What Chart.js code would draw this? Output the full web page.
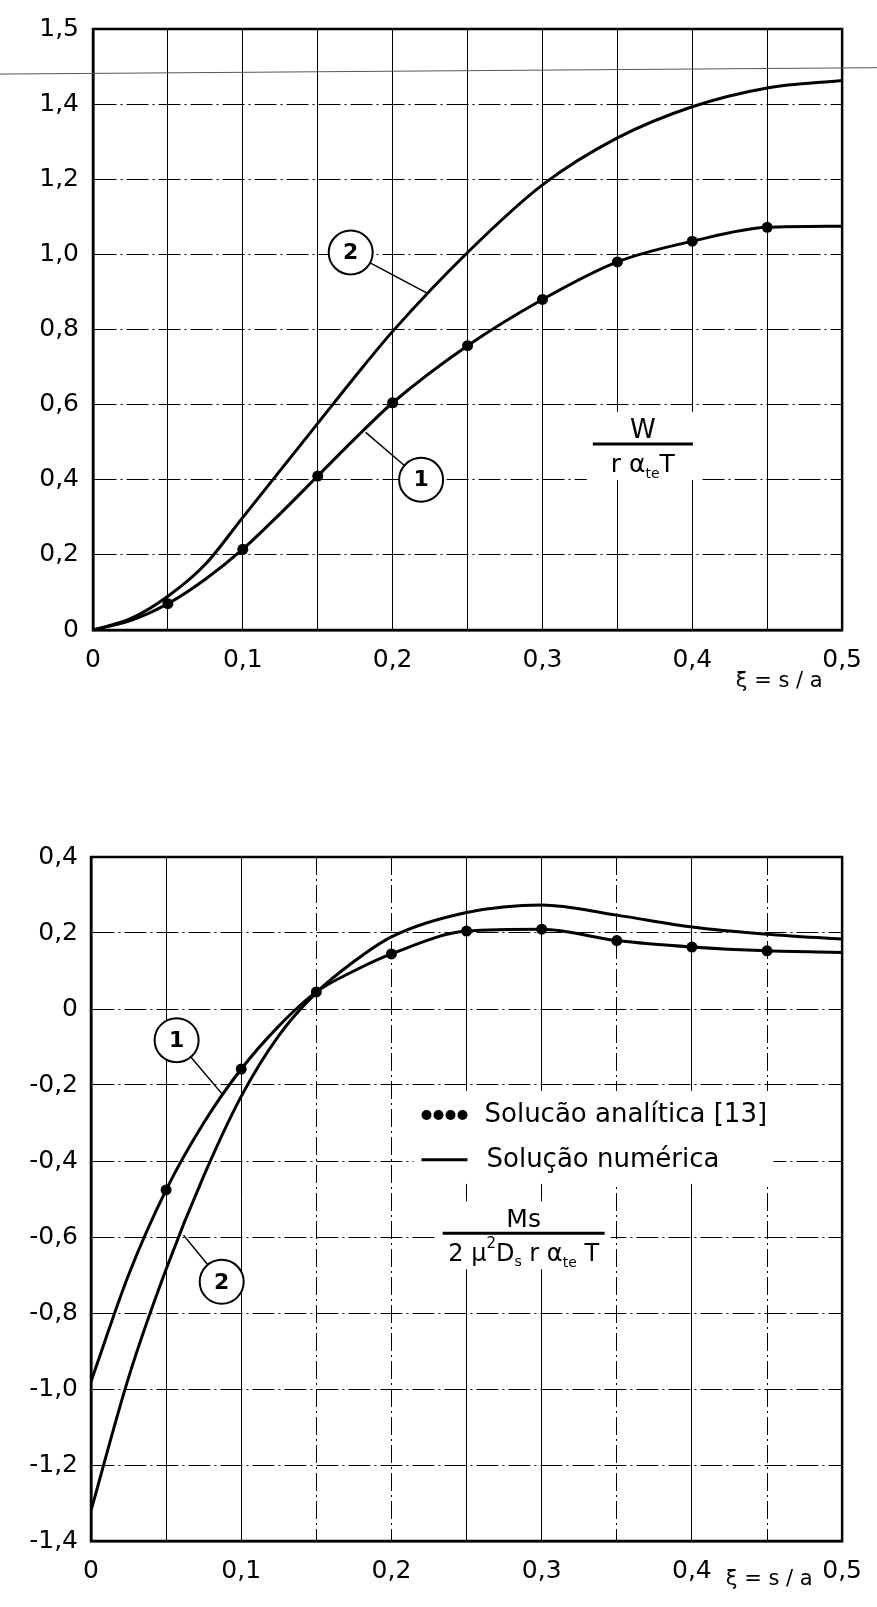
<!DOCTYPE html>
<html>
<head>
<meta charset="utf-8">
<script src="https://cdn.jsdelivr.net/npm/chart.js@4.4.1/dist/chart.umd.min.js"></script>
<style>
  html, body { margin: 0; padding: 0; background: #fff; }
  #wrapTop { position: absolute; left: 0; top: 0; width: 877px; height: 720px; }
  #wrapBot { position: absolute; left: 0; top: 800px; width: 877px; height: 807px; }
</style>
</head>
<body>
<div id="wrapTop"><canvas id="chartTop" width="877" height="720"></canvas></div>
<div id="wrapBot"><canvas id="chartBot" width="877" height="807"></canvas></div>
<script>
const FONT = '"DejaVu Sans", sans-serif'

// upper graph: W / (r alpha_te T)
const wXi = [0, 0.025, 0.05, 0.075, 0.1, 0.125, 0.15, 0.175, 0.2, 0.25, 0.3, 0.35, 0.4, 0.45, 0.5]
const wCurve1 = [0, 0.025, 0.07, 0.135, 0.215, 0.31, 0.41, 0.51, 0.605, 0.757, 0.88, 0.98, 1.035, 1.072, 1.075]
const wCurve2 = [0, 0.03, 0.09, 0.175, 0.30, 0.425, 0.55, 0.675, 0.795, 1.005, 1.185, 1.31, 1.393, 1.443, 1.463]
const wDotXi = [0.05, 0.1, 0.15, 0.2, 0.25, 0.3, 0.35, 0.4, 0.45]
const wDots = [0.07, 0.215, 0.41, 0.605, 0.757, 0.88, 0.98, 1.035, 1.072]
const wYLabels = ['0', '0,2', '0,4', '0,6', '0,8', '1,0', '1,2', '1,4', '1,5']

// lower graph: Ms / (2 mu^2 Ds r alpha_te T)
const mXi = [0, 0.025, 0.05, 0.075, 0.1, 0.125, 0.15, 0.175, 0.2, 0.25, 0.3, 0.35, 0.4, 0.45, 0.5]
const mCurve1 = [-0.98, -0.70, -0.476, -0.30, -0.158, -0.045, 0.045, 0.10, 0.145, 0.205, 0.21, 0.18, 0.163, 0.153, 0.149]
const mCurve2 = [-1.32, -0.97, -0.685, -0.44, -0.23, -0.07, 0.043, 0.125, 0.19, 0.254, 0.274, 0.247, 0.216, 0.197, 0.184]
const mDotXi = [0.05, 0.1, 0.15, 0.2, 0.25, 0.3, 0.35, 0.4, 0.45]
const mDots = [-0.476, -0.158, 0.045, 0.145, 0.205, 0.21, 0.18, 0.163, 0.153]
const mYLabels = ['-1,4', '-1,2', '-1,0', '-0,8', '-0,6', '-0,4', '-0,2', '0', '0,2', '0,4']

const xLabels = ['0', '0,1', '0,2', '0,3', '0,4', '0,5']

const pts = (xs, ys) => xs.map((x, i) => ({ x: x, y: ys[i] }))

function lineSet (xs, ys) {
  return {
    data: pts(xs, ys), showLine: true, borderColor: '#000', borderWidth: 3,
    cubicInterpolationMode: 'monotone', pointRadius: 0
  }
}

function dotSet (xs, ys) {
  return {
    data: pts(xs, ys), showLine: false, pointRadius: 5.5,
    pointBackgroundColor: '#000', pointBorderColor: '#000', pointBorderWidth: 0
  }
}

function makeOptions (cfg) {
  return {
    responsive: false,
    animation: false,
    events: [],
    layout: { padding: cfg.padding },
    plugins: { legend: { display: false }, tooltip: { enabled: false } },
    scales: {
      x: {
        type: 'linear', min: 0, max: 0.5,
        afterFit: s => { s.height = cfg.xHeight },
        ticks: {
          stepSize: 0.05, autoSkip: false, maxRotation: 0, padding: 15, color: '#000',
          font: { family: FONT, size: 25 },
          callback: v => {
            const k = Math.round(v * 100)
            return k % 10 === 0 ? xLabels[k / 10] : ''
          }
        },
        grid: { color: '#000', lineWidth: 1, drawTicks: false },
        border: { color: '#000', width: 2.5, dash: cfg.vDash }
      },
      y: {
        type: 'linear', min: cfg.yMin, max: cfg.yMax,
        afterFit: s => { s.width = cfg.yWidth },
        ticks: {
          stepSize: 0.2, autoSkip: false, padding: cfg.yPad, color: '#000',
          font: { family: FONT, size: 25 },
          callback: v => cfg.yLabels[Math.round((v - cfg.yMin) / 0.2)]
        },
        grid: { color: '#000', lineWidth: 1, drawTicks: false },
        border: { color: '#000', width: 2.5, dash: [22, 4, 2, 4] }
      }
    }
  }
}

function frame (ctx, a) {
  ctx.strokeStyle = '#000'
  ctx.lineWidth = 2.5
  ctx.setLineDash([])
  ctx.strokeRect(a.left, a.top, a.right - a.left, a.bottom - a.top)
}

function bubble (ctx, x, y, c, e, text) {
  const px = x.getPixelForValue(c[0]), py = y.getPixelForValue(c[1])
  const qx = x.getPixelForValue(e[0]), qy = y.getPixelForValue(e[1])
  const r = 22
  const ang = Math.atan2(qy - py, qx - px)
  ctx.strokeStyle = '#000'
  ctx.lineWidth = 1.5
  ctx.beginPath()
  ctx.moveTo(px + r * Math.cos(ang), py + r * Math.sin(ang))
  ctx.lineTo(qx, qy)
  ctx.stroke()
  ctx.beginPath()
  ctx.arc(px, py, r, 0, Math.PI * 2)
  ctx.fillStyle = '#fff'
  ctx.fill()
  ctx.lineWidth = 2
  ctx.stroke()
  ctx.fillStyle = '#000'
  ctx.font = 'bold 22px ' + FONT
  ctx.textAlign = 'center'
  ctx.textBaseline = 'middle'
  ctx.fillText(text, px, py + 1)
}

// parts: [text, size, baseline shift]
function fraction (ctx, cx, cy, half, num, numSize, parts) {
  ctx.fillStyle = '#fff'
  ctx.fillRect(cx - half - 6, cy - 32, half * 2 + 12, 68)
  ctx.fillStyle = '#000'
  ctx.strokeStyle = '#000'
  ctx.lineWidth = 3
  ctx.beginPath()
  ctx.moveTo(cx - half, cy)
  ctx.lineTo(cx + half, cy)
  ctx.stroke()
  ctx.textBaseline = 'alphabetic'
  ctx.textAlign = 'center'
  ctx.font = numSize + 'px ' + FONT
  ctx.fillText(num, cx, cy - 6)
  let total = 0
  parts.forEach(p => { ctx.font = p[1] + 'px ' + FONT; total += ctx.measureText(p[0]).width })
  let px = cx - total / 2
  ctx.textAlign = 'left'
  parts.forEach(p => {
    ctx.font = p[1] + 'px ' + FONT
    ctx.fillText(p[0], px, cy + 28 + p[2])
    px += ctx.measureText(p[0]).width
  })
}

function xiLabel (ctx, x, xi, py) {
  ctx.fillStyle = '#000'
  ctx.font = '21px ' + FONT
  ctx.textAlign = 'center'
  ctx.textBaseline = 'middle'
  ctx.fillText('ξ = s / a', x.getPixelForValue(xi), py)
}

const topNotes = {
  id: 'topNotes',
  afterDraw (chart) {
    const { ctx, chartArea: a, scales: { x, y } } = chart
    ctx.save()
    frame(ctx, a)
    // faint ruled line across the top of the sheet
    ctx.strokeStyle = '#555'
    ctx.lineWidth = 1
    ctx.beginPath()
    ctx.moveTo(0, y.getPixelForValue(1.48))
    ctx.lineTo(chart.width, y.getPixelForValue(1.497))
    ctx.stroke()
    bubble(ctx, x, y, [0.172, 1.005], [0.223, 0.897], '2')
    bubble(ctx, x, y, [0.219, 0.40], [0.182, 0.526], '1')
    fraction(ctx, x.getPixelForValue(0.367), y.getPixelForValue(0.495), 50, 'W', 26,
      [['r α', 25, 0], ['te', 14, 6], ['T', 25, 0]])
    xiLabel(ctx, x, 0.458, a.bottom + 52)
    ctx.restore()
  }
}

const botNotes = {
  id: 'botNotes',
  afterDraw (chart) {
    const { ctx, chartArea: a, scales: { x, y } } = chart
    ctx.save()
    frame(ctx, a)
    bubble(ctx, x, y, [0.057, -0.082], [0.0878, -0.226], '1')
    bubble(ctx, x, y, [0.087, -0.718], [0.0616, -0.595], '2')
    // legend
    const lx = x.getPixelForValue(0.22)
    const ly1 = y.getPixelForValue(-0.279)
    const ly2 = y.getPixelForValue(-0.397)
    ctx.fillStyle = '#fff'
    ctx.fillRect(lx - 8, ly1 - 24, 360, ly2 - ly1 + 48)
    ctx.fillStyle = '#000'
    for (let i = 0; i < 4; i++) {
      ctx.beginPath()
      ctx.arc(lx + 5 + i * 12, ly1, 5, 0, Math.PI * 2)
      ctx.fill()
    }
    ctx.strokeStyle = '#000'
    ctx.lineWidth = 3
    ctx.beginPath()
    ctx.moveTo(lx, ly2)
    ctx.lineTo(lx + 46, ly2)
    ctx.stroke()
    ctx.font = '26px ' + FONT
    ctx.textAlign = 'left'
    ctx.textBaseline = 'middle'
    ctx.fillText('Solucão analítica [13]', lx + 63, ly1)
    ctx.fillText('Solução numérica', lx + 65, ly2)
    fraction(ctx, x.getPixelForValue(0.288), y.getPixelForValue(-0.59), 81, 'Ms', 25,
      [['2 μ', 24, 0], ['2', 15, -13], ['D', 24, 0], ['s', 14, 5], [' r α', 24, 0], ['te', 14, 6], [' T', 24, 0]])
    xiLabel(ctx, x, 0.4515, a.bottom + 39)
    ctx.restore()
  }
}

new Chart(document.getElementById('chartTop'), {
  type: 'scatter',
  data: {
    datasets: [
      lineSet(wXi, wCurve2),
      lineSet(wXi, wCurve1),
      dotSet(wDotXi, wDots)
    ]
  },
  options: makeOptions({
    yMin: 0, yMax: 1.6, yLabels: wYLabels, yWidth: 93, yPad: 14, xHeight: 70,
    padding: { top: 22, right: 23, bottom: 20, left: 0 },
    vDash: []
  }),
  plugins: [topNotes]
})

const solidCols = [0, 1, 2, 5, 6, 8, 10]
new Chart(document.getElementById('chartBot'), {
  type: 'scatter',
  data: {
    datasets: [
      lineSet(mXi, mCurve2),
      lineSet(mXi, mCurve1),
      dotSet(mDotXi, mDots)
    ]
  },
  options: makeOptions({
    yMin: -1.4, yMax: 0.4, yLabels: mYLabels, yWidth: 91, yPad: 13, xHeight: 50,
    padding: { top: 57, right: 23, bottom: 16, left: 0 },
    vDash: ctx => solidCols.includes(ctx.index) ? [] : [18, 4, 2, 4]
  }),
  plugins: [botNotes]
})
</script>
</body>
</html>
